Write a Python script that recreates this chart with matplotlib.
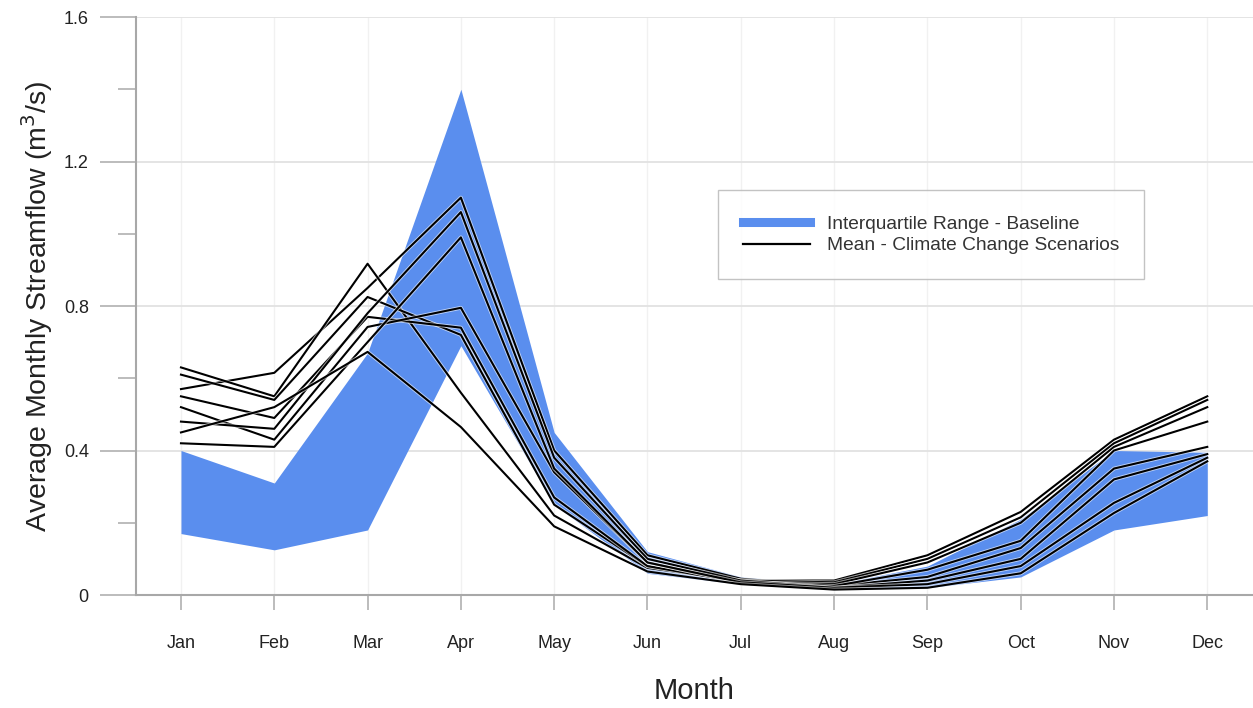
import matplotlib
matplotlib.use("Agg")
import matplotlib.pyplot as plt
import matplotlib.patheffects as pe
from matplotlib.lines import Line2D
import numpy as np

months = ["Jan", "Feb", "Mar", "Apr", "May", "Jun", "Jul", "Aug", "Sep", "Oct", "Nov", "Dec"]

# Interquartile range - baseline
iqr_low = [0.17, 0.125, 0.18, 0.69, 0.25, 0.06, 0.03, 0.015, 0.02, 0.05, 0.18, 0.22]
iqr_high = [0.40, 0.31, 0.67, 1.40, 0.45, 0.12, 0.05, 0.03, 0.08, 0.21, 0.40, 0.395]

# Mean - climate change scenarios
scen1 = [0.57, 0.615, 0.85, 1.10, 0.40, 0.11, 0.045, 0.025, 0.05, 0.13, 0.35, 0.41]
scen2 = [0.63, 0.55, 0.917, 0.56, 0.22, 0.075, 0.04, 0.04, 0.11, 0.23, 0.43, 0.55]
scen3 = [0.61, 0.54, 0.825, 0.72, 0.25, 0.08, 0.04, 0.035, 0.10, 0.215, 0.42, 0.54]
scen4 = [0.55, 0.49, 0.77, 0.74, 0.27, 0.08, 0.035, 0.03, 0.09, 0.20, 0.41, 0.52]
scen5 = [0.52, 0.43, 0.742, 0.795, 0.34, 0.09, 0.035, 0.025, 0.07, 0.15, 0.40, 0.48]
scen6 = [0.48, 0.46, 0.78, 1.06, 0.38, 0.10, 0.04, 0.02, 0.04, 0.10, 0.32, 0.39]
scen7 = [0.42, 0.41, 0.70, 0.99, 0.35, 0.09, 0.035, 0.02, 0.03, 0.08, 0.255, 0.38]
scen8 = [0.45, 0.52, 0.673, 0.465, 0.19, 0.065, 0.03, 0.015, 0.02, 0.06, 0.227, 0.37]
scenarios = [scen1, scen2, scen3, scen4, scen5, scen6, scen7, scen8]

yticks = [0, 0.4, 0.8, 1.2, 1.6]
yticklabels = ["0", "0.4", "0.8", "1.2", "1.6"]

plt.rcParams['font.family'] = ['Liberation Sans', 'DejaVu Sans']

W, H = 1253, 708
fig = plt.figure(figsize=(W / 100, H / 100), dpi=100)
ax = fig.add_axes([136 / W, 1 - 595 / H, (W - 136) / W, (595 - 17) / H])

x = np.arange(len(months))
blue = "#5A8EEE"
ax.fill_between(x, iqr_low, iqr_high, color=blue, linewidth=0, zorder=2)

for s in scenarios:
    ax.plot(x, s, color="black", lw=1.5, zorder=3,
            path_effects=[pe.Stroke(linewidth=2.8, foreground="white", alpha=0.6), pe.Normal()])

ax.set_xlim(-0.482, 11.49)
ax.set_ylim(0, 1.6)

ax.set_xticks(x)
ax.set_xticklabels(months, fontsize=13)
ax.set_yticks(yticks)
ax.set_yticklabels(yticklabels, fontsize=13)
ax.set_yticks([0.2, 0.6, 1.0, 1.4], minor=True)

ax.tick_params(axis="y", which="major", length=26, width=1.2, color="#b0b0b0", pad=8, labelcolor="#222222")
ax.tick_params(axis="y", which="minor", length=13, width=1.2, color="#b0b0b0")
ax.tick_params(axis="x", which="major", length=11, width=1.2, color="#b0b0b0", pad=18, labelcolor="#222222")

for side in ["top", "right"]:
    ax.spines[side].set_visible(False)
for side in ["left", "bottom"]:
    ax.spines[side].set_color("#a8a8a8")
    ax.spines[side].set_linewidth(1.5)

ax.grid(axis="y", which="major", color="#e2e2e2", lw=1.3, zorder=0)
ax.grid(axis="x", which="major", color="#f1f1f1", lw=1.0, zorder=0)
ax.set_axisbelow(True)

ax.set_xlabel("Month", fontsize=21, labelpad=18, color="#222222")
ax.set_ylabel("Average Monthly Streamflow (m$^3$/s)", fontsize=20.5, labelpad=6, color="#222222")

handles = [Line2D([0], [0], color=blue, lw=6.5),
           Line2D([0], [0], color="black", lw=1.6)]
labels = ["Interquartile Range - Baseline", "Mean - Climate Change Scenarios"]
leg = ax.legend(handles, labels, loc="upper left", bbox_to_anchor=(0.521, 0.70),
                fontsize=13.8, frameon=True, fancybox=False, edgecolor="#b5b5b5",
                borderpad=1.3, handlelength=3.5, handletextpad=0.9, labelspacing=0.22,
                borderaxespad=0)
leg.get_frame().set_linewidth(1.0)
for t in leg.get_texts():
    t.set_color("#333333")

fig.savefig("out.png", dpi=100)
